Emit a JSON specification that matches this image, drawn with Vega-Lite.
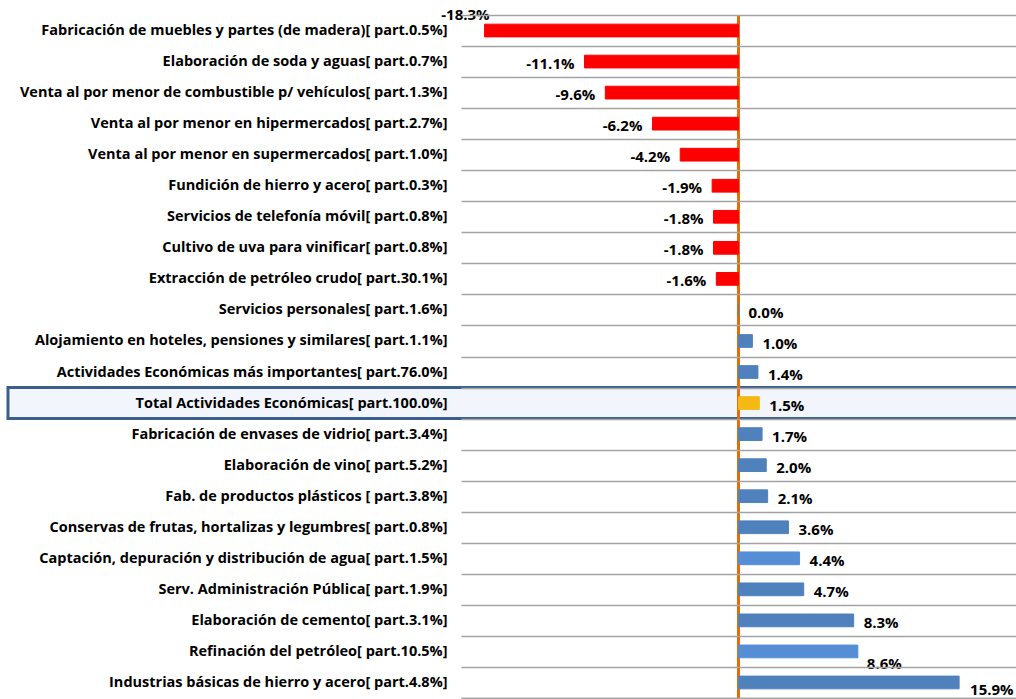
{
  "$schema": "https://vega.github.io/schema/vega-lite/v6.json",
  "width": 555,
  "height": 683,
  "autosize": "none",
  "padding": {"left": 461, "top": 15, "right": 0, "bottom": 1},
  "background": "white",
  "config": {"view": {"stroke": null}, "font": "Open Sans"},
  "data": {"values": [
    {"actividad": "Fabricación de muebles y partes (de madera)[ part.0.5%]", "v": -18.3, "grupo": "neg"},
    {"actividad": "Elaboración de soda y aguas[ part.0.7%]", "v": -11.1, "grupo": "neg"},
    {"actividad": "Venta al por menor de combustible p/ vehículos[ part.1.3%]", "v": -9.6, "grupo": "neg"},
    {"actividad": "Venta al por menor en hipermercados[ part.2.7%]", "v": -6.2, "grupo": "neg"},
    {"actividad": "Venta al por menor en supermercados[ part.1.0%]", "v": -4.2, "grupo": "neg"},
    {"actividad": "Fundición de hierro y acero[ part.0.3%]", "v": -1.9, "grupo": "neg"},
    {"actividad": "Servicios de telefonía móvil[ part.0.8%]", "v": -1.8, "grupo": "neg"},
    {"actividad": "Cultivo de uva para vinificar[ part.0.8%]", "v": -1.8, "grupo": "neg"},
    {"actividad": "Extracción de petróleo crudo[ part.30.1%]", "v": -1.6, "grupo": "neg"},
    {"actividad": "Servicios personales[ part.1.6%]", "v": 0.0, "grupo": "pos"},
    {"actividad": "Alojamiento en hoteles, pensiones y similares[ part.1.1%]", "v": 1.0, "grupo": "pos"},
    {"actividad": "Actividades Económicas más importantes[ part.76.0%]", "v": 1.4, "grupo": "pos"},
    {"actividad": "Total Actividades Económicas[ part.100.0%]", "v": 1.5, "grupo": "total"},
    {"actividad": "Fabricación de envases de vidrio[ part.3.4%]", "v": 1.7, "grupo": "pos"},
    {"actividad": "Elaboración de vino[ part.5.2%]", "v": 2.0, "grupo": "pos"},
    {"actividad": "Fab. de productos plásticos [ part.3.8%]", "v": 2.1, "grupo": "pos"},
    {"actividad": "Conservas de frutas, hortalizas y legumbres[ part.0.8%]", "v": 3.6, "grupo": "pos"},
    {"actividad": "Captación, depuración y distribución de agua[ part.1.5%]", "v": 4.4, "grupo": "pos2"},
    {"actividad": "Serv. Administración Pública[ part.1.9%]", "v": 4.7, "grupo": "pos"},
    {"actividad": "Elaboración de cemento[ part.3.1%]", "v": 8.3, "grupo": "pos"},
    {"actividad": "Refinación del petróleo[ part.10.5%]", "v": 8.6, "grupo": "pos2"},
    {"actividad": "Industrias básicas de hierro y acero[ part.4.8%]", "v": 15.9, "grupo": "pos"}
  ]},
  "transform": [
    {"calculate": "(datum.v < 0 ? '-' : '') + format(abs(datum.v), '.1f') + '%'", "as": "etiqueta"}
  ],
  "layer": [
    {
      "mark": {"type": "rect", "fill": "#F2F5FB", "stroke": "#3A5F8C", "strokeWidth": 3},
      "encoding": {
        "y": {"field": "actividad", "type": "nominal", "sort": null, "scale": {"paddingInner": 0, "paddingOuter": 0}},
        "x": {"datum": -52.65, "type": "quantitative"},
        "x2": {"datum": 22},
        "opacity": {"condition": {"test": "datum.grupo == 'total'", "value": 1}, "value": 0}
      }
    },
    {
      "mark": {"type": "rule", "color": "#E46C0A", "strokeWidth": 2},
      "encoding": {
        "x": {"datum": 0, "type": "quantitative"}
      }
    },
    {
      "mark": {"type": "bar", "height": {"band": 0.41}, "strokeWidth": 1},
      "encoding": {
        "y": {
          "field": "actividad", "type": "nominal", "sort": null,
          "scale": {"paddingInner": 0, "paddingOuter": 0},
          "axis": {
            "title": null, "ticks": false, "tickSize": 0, "domain": false,
            "grid": true, "tickBand": "extent", "gridColor": "#A3A3A3", "gridWidth": 1.5,
            "labelFontSize": 14.5, "labelFontWeight": "bold", "labelColor": "#000000",
            "labelPadding": 14, "labelLimit": 600, "labelFont": "Open Sans"
          }
        },
        "x": {
          "field": "v", "type": "quantitative",
          "scale": {"domain": [-20, 20], "nice": false, "zero": false},
          "axis": {"title": null, "labels": false, "ticks": false, "grid": false, "domain": true, "domainColor": "#A3A3A3", "domainWidth": 1.5}
        },
        "x2": {"datum": 0},
        "color": {
          "field": "grupo", "type": "nominal", "legend": null,
          "scale": {"domain": ["neg", "pos", "pos2", "total"], "range": ["#FF0000", "#4F81BD", "#558ED5", "#F5B914"]}
        },
        "stroke": {
          "field": "grupo", "type": "nominal", "legend": null,
          "scale": {"domain": ["neg", "pos", "pos2", "total"], "range": ["#FF0000", "#4F81BD", "#558ED5", "#F5B914"]}
        }
      }
    },
    {
      "transform": [{"filter": "datum.v < 0 && datum.v > -18"}],
      "mark": {"type": "text", "align": "right", "baseline": "middle", "dx": -10, "dy": 2, "fontSize": 15, "fontWeight": "bold", "color": "#000000"},
      "encoding": {
        "y": {"field": "actividad", "type": "nominal", "sort": null},
        "x": {"field": "v", "type": "quantitative"},
        "text": {"field": "etiqueta"}
      }
    },
    {
      "transform": [{"filter": "datum.v >= 0 && datum.v != 8.6 && datum.v != 15.9"}],
      "mark": {"type": "text", "align": "left", "baseline": "middle", "dx": 10, "dy": 3, "fontSize": 15, "fontWeight": "bold", "color": "#000000"},
      "encoding": {
        "y": {"field": "actividad", "type": "nominal", "sort": null},
        "x": {"field": "v", "type": "quantitative"},
        "text": {"field": "etiqueta"}
      }
    },
    {
      "transform": [{"filter": "datum.v < -18"}],
      "mark": {"type": "text", "align": "right", "baseline": "middle", "dx": 5, "dy": -16, "fontSize": 15, "fontWeight": "bold", "color": "#000000"},
      "encoding": {
        "y": {"field": "actividad", "type": "nominal", "sort": null},
        "x": {"field": "v", "type": "quantitative"},
        "text": {"field": "etiqueta"}
      }
    },
    {
      "transform": [{"filter": "datum.v == 8.6"}],
      "mark": {"type": "text", "align": "left", "baseline": "middle", "dx": 9, "dy": 13, "fontSize": 15, "fontWeight": "bold", "color": "#000000"},
      "encoding": {
        "y": {"field": "actividad", "type": "nominal", "sort": null},
        "x": {"field": "v", "type": "quantitative"},
        "text": {"field": "etiqueta"}
      }
    },
    {
      "transform": [{"filter": "datum.v == 15.9"}],
      "mark": {"type": "text", "align": "left", "baseline": "middle", "dx": 11, "dy": 8, "fontSize": 15, "fontWeight": "bold", "color": "#000000"},
      "encoding": {
        "y": {"field": "actividad", "type": "nominal", "sort": null},
        "x": {"field": "v", "type": "quantitative"},
        "text": {"field": "etiqueta"}
      }
    }
  ]
}
